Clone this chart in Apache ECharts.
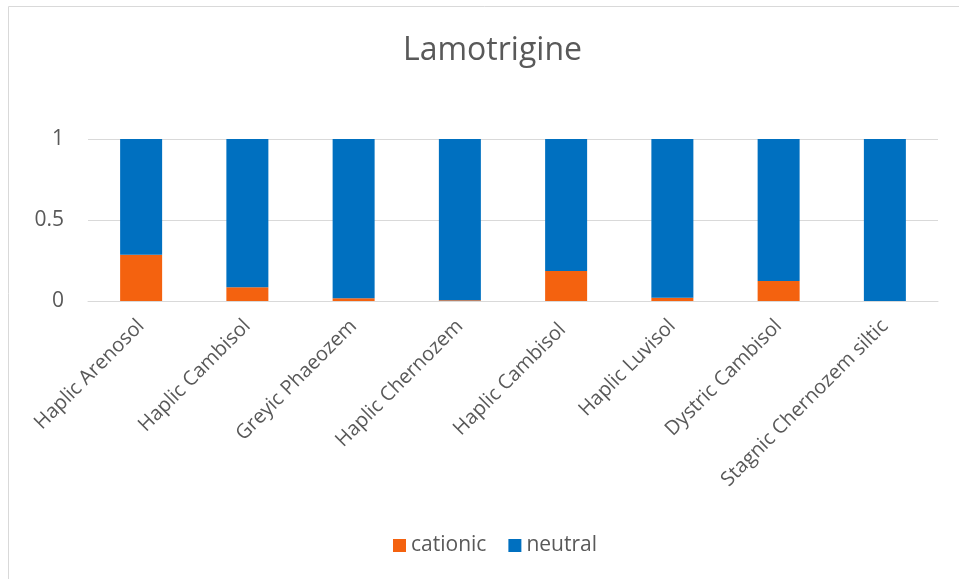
<!DOCTYPE html>
<html>
<head>
<meta charset="utf-8">
<script src="https://cdn.jsdelivr.net/npm/echarts@6/dist/echarts.min.js"></script>
<style>
  html, body { margin: 0; padding: 0; background: #fff; }
  #chart { width: 959px; height: 579px; }
</style>
</head>
<body>
<div id="chart"></div>
<script>
// soil types
var categories = ['Haplic Arenosol', 'Haplic Cambisol', 'Greyic Phaeozem', 'Haplic Chernozem',
  'Haplic Cambisol ', 'Haplic Luvisol', 'Dystric Cambisol', 'Stagnic Chernozem siltic'];
var cationic = [0.285, 0.085, 0.017, 0.005, 0.185, 0.02, 0.123, 0];
var neutral = [0.715, 0.915, 0.983, 0.995, 0.815, 0.98, 0.877, 1];
var yTicks = [0, 0.5, 1];

var textColor = '#595959';
var font = 'Open Sans';

var myChart = echarts.init(document.getElementById('chart'));
var option = {
  animation: false,
  title: {
    text: 'Lamotrigine',
    left: 398,
    top: 30,
    textStyle: { fontFamily: font, fontSize: 32, fontWeight: 'normal', color: textColor }
  },
  legend: {
    bottom: 18,
    left: 388,
    itemWidth: 13,
    itemHeight: 13,
    itemGap: 22,
    icon: 'rect',
    textStyle: { fontFamily: font, fontSize: 21, color: textColor },
    data: ['cationic', 'neutral']
  },
  graphic: [{
    type: 'rect',
    shape: { x: 8.5, y: 6.5, width: 1000, height: 1000 },
    style: { fill: 'none', stroke: '#d9d9d9', lineWidth: 1 },
    silent: true
  }],
  grid: { left: 88, right: 21, top: 139, height: 162 },
  xAxis: {
    type: 'category',
    data: categories,
    axisLine: { lineStyle: { color: '#d9d9d9', width: 1 } },
    axisTick: { show: false },
    axisLabel: {
      rotate: 45,
      margin: 22,
      interval: 0,
      fontFamily: font,
      fontSize: 20,
      color: textColor
    }
  },
  yAxis: {
    type: 'value',
    min: yTicks[0],
    max: yTicks[yTicks.length - 1],
    interval: yTicks[1] - yTicks[0],
    axisLine: { show: false },
    axisTick: { show: false },
    splitLine: { lineStyle: { color: '#d9d9d9', width: 1 } },
    axisLabel: { fontFamily: font, fontSize: 21, color: textColor, margin: 24 }
  },
  series: [
    {
      name: 'cationic',
      type: 'bar',
      stack: 'total',
      barWidth: 42,
      data: cationic,
      itemStyle: { color: '#f4620f' }
    },
    {
      name: 'neutral',
      type: 'bar',
      stack: 'total',
      barWidth: 42,
      data: neutral,
      itemStyle: { color: '#0070c0' }
    }
  ]
};
myChart.setOption(option);
</script>
</body>
</html>
